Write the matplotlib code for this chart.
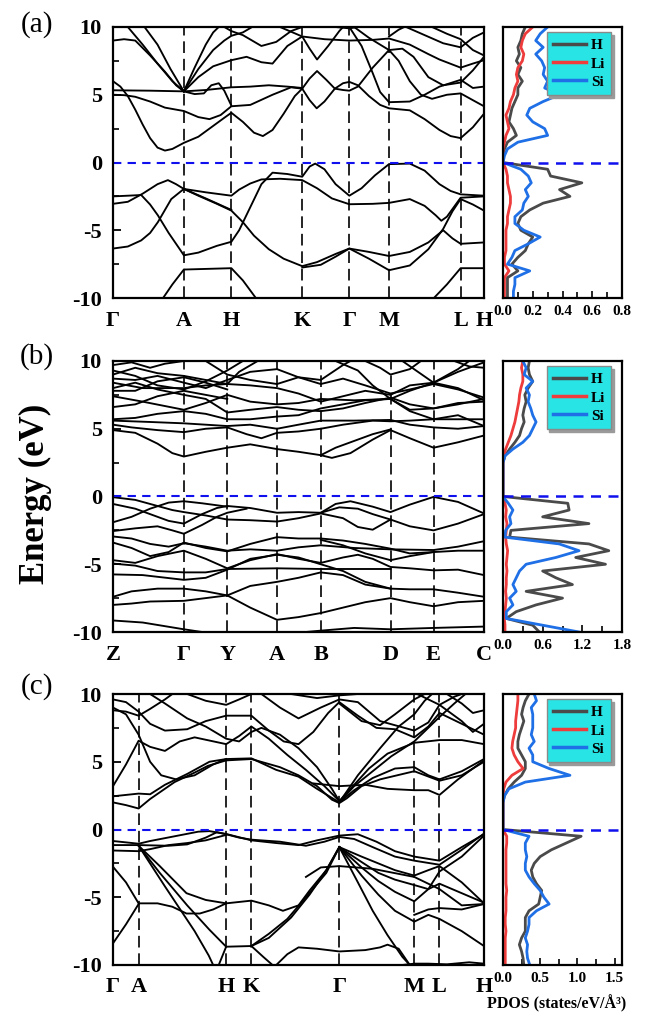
import matplotlib
matplotlib.use('Agg')
import matplotlib.pyplot as plt
from matplotlib.ticker import MultipleLocator

plt.rcParams['font.family'] = ['Liberation Serif', 'DejaVu Serif']
plt.rcParams['font.weight'] = 'bold'
plt.rcParams['axes.unicode_minus'] = False
plt.rcParams['axes.linewidth'] = 1.6

# ---------------- k-path (fraction of path length) ----------------
kpts_a = [0, 0.191, 0.319, 0.510, 0.637, 0.744, 0.937, 1.0]
klab_a = ['Γ', 'A', 'H', 'K', 'Γ', 'M', 'L', 'H']
kpts_b = [0, 0.191, 0.308, 0.442, 0.560, 0.748, 0.864, 1.0]
klab_b = ['Z', 'Γ', 'Y', 'A', 'B', 'D', 'E', 'C']
kpts_c = [0, 0.069, 0.305, 0.373, 0.610, 0.812, 0.880, 1.0]
klab_c = ['Γ', 'A', 'H', 'K', 'Γ', 'M', 'L', 'H']

# ---------------- band lines, [k, E(eV)] ----------------
bands_a = [
    [[0, -2.5], [0.04, -2.45], [0.076, -2.4], [0.10, -3.1], [0.121, -3.9], [0.15, -5.2], [0.18, -6.4], [0.191, -6.85], [0.23, -6.65], [0.28, -6.15], [0.319, -5.85], [0.34, -5.0], [0.37, -3.3], [0.40, -1.6], [0.43, -0.75], [0.47, -0.85], [0.51, -1.05], [0.53, -0.3], [0.545, -0.08], [0.57, -0.5], [0.60, -1.6], [0.637, -2.45], [0.67, -1.9], [0.706, -0.95], [0.744, -0.12], [0.80, -0.08], [0.84, -0.6], [0.88, -1.6], [0.91, -2.1], [0.937, -2.35], [1.0, -2.45]],
    [[0, -3.05], [0.04, -2.9], [0.08, -2.3], [0.12, -1.6], [0.148, -1.3], [0.17, -1.6], [0.191, -1.95], [0.25, -2.2], [0.319, -2.45], [0.34, -2.0], [0.37, -1.55], [0.40, -1.25], [0.45, -1.2], [0.51, -1.3], [0.55, -1.9], [0.59, -2.65], [0.637, -3.08], [0.70, -3.05], [0.744, -2.98], [0.80, -2.7], [0.84, -3.2], [0.87, -3.9], [0.885, -4.3], [0.90, -4.0], [0.937, -2.6], [1.0, -2.5]],
    [[0, -6.35], [0.04, -6.2], [0.076, -5.75], [0.10, -5.2], [0.121, -4.4], [0.157, -2.7], [0.191, -1.95], [0.23, -2.45], [0.28, -3.05], [0.319, -3.55], [0.35, -4.4], [0.38, -5.4], [0.42, -6.4], [0.46, -7.1], [0.51, -7.65], [0.55, -7.35], [0.60, -6.75], [0.637, -6.35], [0.69, -6.6], [0.744, -6.9], [0.80, -6.6], [0.85, -5.9], [0.89, -5.0], [0.915, -5.6], [0.937, -6.0], [1.0, -5.9]],
    [[0.191, -1.95], [0.25, -2.65], [0.319, -3.5]],
    [[0.51, -7.75], [0.56, -7.55], [0.60, -6.95], [0.637, -6.35], [0.69, -7.1], [0.744, -7.95], [0.80, -7.6], [0.85, -6.4], [0.89, -4.9], [0.915, -3.6], [0.937, -2.7], [0.97, -3.1], [1.0, -3.55]],
    [[0.135, -10], [0.16, -9.0], [0.191, -7.9], [0.319, -7.8], [0.35, -8.7], [0.385, -10]],
    [[0.865, -10], [0.90, -9.0], [0.937, -7.8], [1.0, -7.8]],
    [[0, 6.0], [0.02, 5.6], [0.04, 4.9], [0.06, 3.9], [0.08, 2.8], [0.10, 1.8], [0.12, 1.1], [0.14, 0.88], [0.16, 1.0], [0.191, 1.45], [0.23, 1.9], [0.27, 2.7], [0.30, 3.3], [0.319, 3.67], [0.35, 3.0], [0.38, 2.2], [0.404, 1.95], [0.43, 2.4], [0.46, 3.6], [0.49, 4.9], [0.51, 5.45], [0.53, 4.6], [0.549, 4.0], [0.57, 4.5], [0.598, 5.45], [0.62, 5.85], [0.637, 5.95], [0.66, 5.7], [0.69, 4.9], [0.72, 4.25], [0.744, 4.0], [0.80, 3.85], [0.84, 3.2], [0.88, 2.4], [0.91, 1.95], [0.937, 1.8], [0.97, 2.6], [1.0, 3.6]],
    [[0, 5.0], [0.03, 4.97], [0.06, 4.85], [0.10, 4.5], [0.14, 4.05], [0.191, 3.8], [0.23, 3.35], [0.26, 3.2], [0.29, 3.5], [0.319, 4.15], [0.37, 4.25], [0.43, 5.0], [0.48, 5.55], [0.51, 5.45], [0.53, 6.2], [0.55, 6.75], [0.575, 6.1], [0.598, 5.45], [0.62, 5.35], [0.637, 5.3], [0.66, 5.6], [0.70, 7.0], [0.744, 8.3], [0.77, 7.5], [0.80, 6.0], [0.83, 5.0], [0.86, 4.7], [0.90, 5.0], [0.937, 5.1], [0.97, 4.6], [1.0, 4.15]],
    [[0, 5.33], [0.10, 5.3], [0.191, 5.25], [0.22, 5.05], [0.245, 5.1], [0.265, 5.7], [0.285, 5.85], [0.30, 5.3], [0.319, 4.2]],
    [[0.191, 5.25], [0.25, 5.35], [0.319, 5.55], [0.37, 5.6], [0.42, 5.7], [0.47, 5.6], [0.51, 5.5]],
    [[0, 9.0], [0.03, 9.1], [0.06, 9.0], [0.10, 7.9], [0.14, 6.7], [0.17, 5.7], [0.191, 5.25]],
    [[0.04, 10], [0.08, 8.7], [0.12, 7.3], [0.16, 6.0], [0.191, 5.25]],
    [[0.085, 10], [0.12, 8.7], [0.155, 6.9], [0.191, 5.25]],
    [[0.191, 5.25], [0.22, 7.0], [0.25, 8.7], [0.27, 9.6], [0.285, 10]],
    [[0.191, 5.25], [0.23, 6.9], [0.27, 8.3], [0.30, 9.0], [0.319, 9.35], [0.35, 9.6], [0.375, 10]],
    [[0.191, 5.25], [0.23, 6.3], [0.27, 7.1], [0.319, 7.55], [0.36, 7.8], [0.40, 7.4], [0.43, 7.3], [0.47, 8.6], [0.51, 9.3], [0.53, 8.4], [0.55, 7.6], [0.58, 8.6], [0.61, 9.7], [0.62, 10]],
    [[0.30, 10], [0.319, 9.7], [0.35, 9.4], [0.40, 8.6], [0.44, 8.9], [0.48, 9.7], [0.51, 10]],
    [[0.45, 10], [0.51, 9.3], [0.57, 9.1], [0.637, 9.0], [0.70, 9.05], [0.744, 9.15], [0.80, 8.7], [0.85, 8.0], [0.88, 7.6], [0.937, 7.0], [0.97, 7.3], [1.0, 7.55]],
    [[0.637, 10], [0.67, 8.6], [0.70, 6.6], [0.72, 5.2], [0.744, 4.45], [0.80, 4.5], [0.84, 5.0], [0.88, 5.6], [0.937, 6.1], [0.97, 5.5], [1.0, 5.6]],
    [[0.65, 10], [0.69, 9.2], [0.744, 8.3], [0.78, 8.4], [0.81, 7.8], [0.85, 6.3], [0.89, 5.7], [0.937, 5.9], [0.97, 6.8], [1.0, 7.8]],
    [[0.744, 9.3], [0.77, 9.8], [0.785, 10]],
    [[0.79, 10], [0.84, 9.4], [0.89, 8.8], [0.937, 8.5], [0.97, 9.2], [1.0, 9.6]],
    [[0.86, 10], [0.90, 9.5], [0.937, 9.1], [0.97, 8.3], [1.0, 7.9]],
    [[0.60, 10], [0.637, 9.9], [0.66, 10]],
]

bands_b = [
    [[0, -0.05], [0.06, -0.25], [0.12, -0.7], [0.16, -1.0], [0.191, -1.15], [0.25, -1.4], [0.308, -1.7], [0.37, -1.75], [0.442, -1.85], [0.50, -1.6], [0.56, -1.25], [0.62, -1.6], [0.66, -2.25], [0.70, -2.45], [0.748, -1.7], [0.80, -2.2], [0.864, -2.5], [0.93, -2.0], [1.0, -1.3]],
    [[0, -0.55], [0.06, -0.9], [0.10, -1.3], [0.15, -1.8], [0.191, -2.0], [0.24, -1.3], [0.28, -0.85], [0.308, -0.7], [0.37, -0.85], [0.442, -1.2], [0.50, -1.15], [0.56, -1.2], [0.60, -0.55], [0.64, -0.35], [0.70, -0.75], [0.748, -1.15], [0.80, -0.6], [0.864, -0.03], [0.93, -0.4], [1.0, -1.25]],
    [[0, -1.9], [0.05, -1.5], [0.10, -0.9], [0.15, -0.45], [0.191, -0.35], [0.24, -0.5], [0.308, -0.75]],
    [[0, -2.55], [0.06, -2.35], [0.12, -2.2], [0.16, -2.5], [0.191, -2.75], [0.24, -2.1], [0.28, -1.5], [0.308, -1.2], [0.36, -0.9]],
    [[0.56, -1.2], [0.61, -0.8], [0.66, -0.9], [0.70, -1.3], [0.748, -1.7]],
    [[0, -2.95], [0.05, -3.1], [0.10, -3.5], [0.15, -3.7], [0.191, -3.45], [0.25, -3.7], [0.308, -4.0], [0.37, -3.9], [0.442, -4.0], [0.50, -3.75], [0.56, -3.6], [0.65, -3.8], [0.748, -3.9], [0.864, -3.95], [0.93, -3.7], [1.0, -3.3]],
    [[0, -3.4], [0.05, -3.8], [0.10, -4.4], [0.15, -4.1], [0.191, -3.4], [0.25, -3.8], [0.308, -4.05], [0.37, -3.5], [0.442, -3.0], [0.50, -3.1], [0.56, -3.1], [0.62, -3.25], [0.68, -3.5], [0.748, -3.85], [0.80, -4.2], [0.864, -4.1], [0.93, -4.0], [1.0, -4.0]],
    [[0, -4.7], [0.06, -4.9], [0.12, -4.4], [0.191, -4.0], [0.25, -4.6], [0.308, -5.3], [0.37, -4.7], [0.442, -4.25], [0.50, -4.6], [0.56, -4.9], [0.62, -4.5], [0.66, -4.3], [0.70, -4.6], [0.748, -5.2], [0.80, -5.3], [0.864, -5.45], [0.93, -5.4], [1.0, -5.8]],
    [[0, -4.95], [0.06, -5.1], [0.12, -5.5], [0.191, -5.6], [0.25, -5.6], [0.308, -5.35], [0.442, -5.3], [0.56, -5.35], [0.65, -5.35], [0.748, -5.35]],
    [[0, -5.75], [0.08, -5.8], [0.191, -6.15], [0.25, -6.0], [0.308, -5.4], [0.37, -4.6], [0.442, -4.3], [0.50, -4.5], [0.56, -5.0], [0.62, -5.5], [0.68, -6.3], [0.748, -6.8], [0.80, -6.85], [0.864, -6.85], [0.93, -7.1], [1.0, -7.4]],
    [[0, -7.4], [0.05, -7.0], [0.12, -6.8], [0.191, -6.8], [0.25, -7.0], [0.308, -7.3], [0.37, -8.2], [0.442, -9.1], [0.50, -8.9], [0.56, -8.6], [0.62, -8.2], [0.68, -7.8], [0.748, -7.5], [0.80, -7.8], [0.864, -8.1], [0.93, -7.8], [1.0, -7.7]],
    [[0, -8.0], [0.05, -7.9], [0.10, -7.75], [0.191, -7.7], [0.308, -7.3], [0.37, -6.6], [0.442, -6.3], [0.50, -6.0], [0.56, -5.6], [0.62, -5.8], [0.68, -6.5], [0.748, -6.8]],
    [[0, -9.15], [0.08, -9.3], [0.191, -9.8], [0.24, -10]],
    [[0.52, -10], [0.56, -9.9], [0.65, -9.7], [0.748, -9.8], [0.864, -9.7], [1.0, -9.6]],
    [[0.56, -3.2], [0.62, -3.6], [0.68, -4.2], [0.748, -4.7], [0.80, -4.4], [0.864, -4.1]],
    [[0, 4.9], [0.06, 4.7], [0.12, 3.9], [0.16, 3.2], [0.191, 2.95], [0.25, 3.3], [0.308, 3.6], [0.37, 3.85], [0.442, 3.5], [0.50, 3.3], [0.56, 3.05], [0.59, 2.85], [0.64, 3.2], [0.70, 4.2], [0.748, 4.9], [0.80, 4.3], [0.864, 3.6], [0.93, 4.0], [1.0, 4.5]],
    [[0.56, 3.05], [0.60, 3.6], [0.65, 4.1], [0.70, 4.6], [0.748, 4.95]],
    [[0, 5.3], [0.05, 5.1], [0.12, 4.9], [0.191, 4.75], [0.25, 5.0], [0.308, 5.1], [0.36, 4.6], [0.40, 4.3], [0.442, 4.7], [0.50, 4.8], [0.56, 5.0], [0.62, 5.3], [0.70, 5.6], [0.748, 5.55], [0.80, 5.6], [0.864, 5.7], [1.0, 5.7]],
    [[0, 5.6], [0.10, 5.5], [0.191, 5.4], [0.25, 5.3], [0.308, 5.2], [0.37, 5.3], [0.442, 5.0], [0.50, 5.3], [0.56, 5.6], [0.65, 5.6], [0.748, 5.65], [0.80, 5.3], [0.864, 5.1], [0.93, 5.0], [1.0, 5.2]],
    [[0, 5.7], [0.06, 5.8], [0.12, 6.1], [0.191, 6.3], [0.25, 6.1], [0.308, 5.7], [0.37, 5.7], [0.442, 5.9], [0.50, 6.0], [0.56, 6.5], [0.62, 6.8], [0.68, 7.1], [0.748, 7.2], [0.80, 6.4], [0.864, 6.5], [0.93, 6.9], [1.0, 7.0]],
    [[0, 7.4], [0.08, 7.0], [0.191, 6.4], [0.25, 6.9], [0.308, 7.5], [0.37, 7.0], [0.442, 6.8], [0.50, 6.9], [0.56, 7.2], [0.65, 7.1], [0.748, 7.2], [0.80, 7.8], [0.864, 8.4], [0.93, 8.0], [1.0, 7.1]],
    [[0, 8.0], [0.06, 8.4], [0.12, 7.9], [0.191, 7.5], [0.25, 7.2], [0.308, 6.2], [0.37, 6.4], [0.442, 6.6], [0.50, 6.4], [0.56, 6.3], [0.62, 6.5], [0.68, 6.9], [0.748, 7.3], [0.80, 6.8], [0.864, 6.5], [0.93, 6.8], [1.0, 7.2]],
    [[0, 8.4], [0.08, 8.0], [0.191, 8.0], [0.25, 8.2], [0.308, 8.3], [0.37, 8.2], [0.442, 8.0], [0.50, 7.6], [0.56, 7.0], [0.62, 7.4], [0.68, 7.8], [0.748, 7.5], [0.80, 8.2], [0.864, 8.4], [0.93, 9.2], [1.0, 9.9]],
    [[0, 8.7], [0.06, 8.6], [0.12, 8.9], [0.191, 8.4], [0.25, 8.0], [0.308, 8.6], [0.37, 9.2], [0.442, 9.4], [0.50, 8.8], [0.56, 8.3], [0.62, 8.7], [0.68, 8.2], [0.748, 7.6], [0.80, 7.9], [0.864, 8.3], [0.93, 7.9], [1.0, 7.3]],
    [[0, 9.0], [0.06, 9.5], [0.12, 9.1], [0.191, 8.9], [0.25, 8.6], [0.308, 8.3], [0.34, 9.2], [0.39, 10]],
    [[0, 9.7], [0.05, 9.9], [0.10, 9.5], [0.14, 9.8], [0.191, 10]],
    [[0.25, 10], [0.308, 9.0], [0.37, 8.6], [0.442, 8.3], [0.50, 8.8], [0.56, 8.6], [0.62, 9.7], [0.64, 10]],
    [[0.60, 10], [0.66, 9.3], [0.70, 8.2], [0.748, 7.2], [0.80, 6.3], [0.864, 5.7], [0.93, 6.0], [1.0, 5.2]],
    [[0.68, 10], [0.72, 9.5], [0.748, 9.0], [0.80, 9.4], [0.83, 10]],
    [[0.78, 10], [0.864, 8.4], [0.93, 9.4], [0.96, 10]],
    [[0.92, 10], [0.96, 9.6], [1.0, 9.5]],
    [[0, 7.8], [0.06, 7.8], [0.12, 8.5], [0.191, 8.8], [0.25, 8.4], [0.308, 7.9]],
    [[0, 6.6], [0.06, 6.8], [0.12, 7.4], [0.191, 7.8], [0.25, 7.5], [0.308, 7.2]],
    [[0, 9.3], [0.06, 8.9], [0.12, 8.2], [0.191, 7.9], [0.25, 8.5], [0.308, 9.3], [0.35, 10]],
]

bands_c = [
    [[0, -0.85], [0.035, -0.95], [0.069, -1.05], [0.10, -0.85], [0.166, -0.5], [0.23, -0.16], [0.26, -0.12], [0.305, -0.33], [0.373, -0.8], [0.44, -1.0], [0.50, -1.15], [0.55, -0.8], [0.61, -0.45], [0.66, -0.35], [0.71, -0.9], [0.76, -1.6], [0.812, -2.0], [0.880, -2.3], [0.94, -1.3], [1.0, -0.35]],
    [[0, -1.15], [0.069, -1.15], [0.15, -1.2], [0.20, -1.1], [0.25, -0.6], [0.28, -0.2], [0.305, -0.35], [0.34, -0.6], [0.373, -0.75], [0.45, -0.9], [0.52, -1.2], [0.57, -0.9], [0.61, -0.55], [0.65, -0.7], [0.70, -1.3], [0.76, -2.0], [0.812, -2.3], [0.880, -2.6], [0.94, -1.5], [1.0, -0.3]],
    [[0, -1.55], [0.069, -1.6], [0.10, -1.45], [0.15, -1.15], [0.20, -1.0], [0.25, -0.8], [0.305, -0.4]],
    [[0.069, -1.2], [0.126, -2.7], [0.198, -4.7], [0.25, -5.2], [0.305, -5.45], [0.373, -5.25], [0.42, -5.6], [0.458, -6.0], [0.50, -5.6], [0.53, -4.5], [0.575, -3.0], [0.61, -1.3]],
    [[0.069, -1.2], [0.126, -3.2], [0.20, -5.6], [0.26, -7.4], [0.305, -8.65], [0.373, -8.6], [0.42, -8.0], [0.48, -6.5], [0.53, -4.8], [0.575, -3.0], [0.61, -1.3]],
    [[0.069, -1.2], [0.14, -4.2], [0.22, -7.5], [0.258, -9.3], [0.27, -10]],
    [[0.285, -10], [0.305, -8.65]],
    [[0.373, -8.6], [0.42, -7.7], [0.47, -6.6], [0.52, -5.0], [0.575, -3.2], [0.61, -1.3]],
    [[0.373, -8.6], [0.405, -9.4], [0.43, -10]],
    [[0, -2.75], [0.035, -3.9], [0.069, -5.45], [0.12, -5.45], [0.16, -5.7], [0.198, -6.2], [0.234, -6.2], [0.27, -5.9], [0.305, -5.45]],
    [[0, -8.4], [0.035, -7.0], [0.069, -5.5]],
    [[0.44, -10], [0.47, -9.2], [0.50, -8.7], [0.55, -8.8], [0.61, -9.0], [0.68, -8.9], [0.72, -8.7], [0.74, -8.5], [0.77, -8.8], [0.80, -10]],
    [[0.61, -1.3], [0.67, -2.4], [0.715, -3.2], [0.76, -3.7], [0.812, -4.1], [0.85, -4.4], [0.88, -4.0], [0.94, -4.7], [1.0, -5.4]],
    [[0.61, -1.3], [0.67, -2.8], [0.715, -3.8], [0.76, -4.6], [0.812, -5.3], [0.85, -4.4], [0.88, -3.1], [0.94, -2.0], [1.0, -0.45]],
    [[0.61, -1.3], [0.67, -3.4], [0.715, -4.8], [0.76, -6.0], [0.812, -6.8], [0.85, -6.3], [0.88, -6.6], [0.94, -7.5], [1.0, -8.6]],
    [[0.61, -1.3], [0.66, -3.9], [0.70, -6.0], [0.74, -7.8], [0.78, -9.4], [0.80, -10]],
    [[0.61, -1.3], [0.67, -2.0], [0.715, -2.5], [0.76, -3.0], [0.812, -3.4], [0.85, -3.0], [0.88, -2.7], [0.94, -3.9], [1.0, -5.45]],
    [[0.52, -3.5], [0.56, -2.8], [0.61, -2.7], [0.70, -2.9], [0.812, -3.5], [0.88, -4.4], [0.94, -5.6], [1.0, -5.5]],
    [[0.812, -6.3], [0.85, -5.9], [0.88, -5.8], [0.94, -5.9], [1.0, -5.5]],
    [[0.78, -10], [0.812, -9.9], [0.85, -9.9], [0.90, -9.95], [0.96, -9.8], [1.0, -9.9]],
    [[0, 2.0], [0.035, 1.8], [0.069, 1.55], [0.10, 2.25], [0.166, 3.5], [0.22, 4.2], [0.256, 4.7], [0.305, 5.1], [0.373, 5.2], [0.45, 4.6], [0.50, 4.0], [0.55, 3.2], [0.59, 2.2], [0.61, 1.95], [0.63, 2.3], [0.67, 3.2], [0.72, 3.7], [0.812, 4.3], [0.88, 3.6], [0.94, 4.0], [1.0, 5.0]],
    [[0, 2.45], [0.069, 2.65], [0.10, 2.6], [0.14, 3.3], [0.20, 4.1], [0.26, 5.0], [0.305, 5.2], [0.373, 5.25], [0.44, 4.4], [0.50, 3.9], [0.55, 3.0], [0.61, 2.0], [0.65, 2.9], [0.70, 3.8], [0.76, 4.5], [0.812, 4.6], [0.85, 4.0], [0.88, 3.7], [0.94, 4.3], [1.0, 5.2]],
    [[0, 3.2], [0.035, 4.8], [0.069, 6.55], [0.10, 6.1], [0.14, 5.8], [0.18, 6.5], [0.22, 6.8], [0.305, 6.3], [0.34, 6.9], [0.373, 7.6], [0.42, 6.7], [0.47, 5.5], [0.52, 4.4], [0.57, 3.2], [0.61, 2.1], [0.65, 3.3], [0.69, 4.5], [0.74, 5.6], [0.812, 6.4], [0.88, 6.6], [0.94, 6.6], [1.0, 6.3]],
    [[0, 9.0], [0.035, 8.5], [0.069, 7.0], [0.10, 5.0], [0.13, 4.0], [0.17, 3.7], [0.22, 4.0], [0.27, 4.8], [0.305, 5.2]],
    [[0.54, 3.4], [0.61, 3.2], [0.68, 3.3], [0.74, 3.0], [0.812, 2.9], [0.85, 2.9], [0.88, 2.55], [0.93, 3.7], [1.0, 5.1]],
    [[0.61, 2.0], [0.65, 3.2], [0.70, 4.3], [0.75, 5.4], [0.812, 6.5], [0.88, 8.3], [0.92, 9.3], [0.95, 10]],
    [[0.61, 2.0], [0.66, 4.0], [0.72, 6.0], [0.77, 7.6], [0.812, 8.5], [0.84, 9.5], [0.86, 10]],
    [[0, 9.6], [0.035, 9.4], [0.069, 8.7], [0.10, 7.8], [0.14, 7.3], [0.20, 7.4], [0.25, 8.0], [0.305, 8.4], [0.373, 8.4], [0.42, 7.3], [0.46, 6.5], [0.50, 6.3], [0.54, 7.2], [0.58, 8.6], [0.61, 9.4], [0.66, 8.4], [0.71, 7.5], [0.76, 7.4], [0.812, 6.8], [0.85, 7.6], [0.88, 8.6], [0.94, 7.8], [1.0, 7.0]],
    [[0.10, 10], [0.14, 9.3], [0.20, 8.2], [0.25, 7.6], [0.305, 6.7], [0.34, 6.5], [0.373, 7.2], [0.40, 7.5], [0.45, 7.0], [0.50, 6.0], [0.55, 4.6], [0.59, 3.0], [0.61, 2.1]],
    [[0.40, 10], [0.45, 9.0], [0.50, 8.2], [0.56, 9.0], [0.61, 9.6], [0.66, 9.4], [0.72, 8.0], [0.812, 7.3], [0.85, 7.9], [0.88, 9.2], [0.92, 9.8], [0.94, 10]],
    [[0.61, 9.3], [0.67, 8.0], [0.72, 7.7], [0.76, 8.5], [0.812, 9.6], [0.84, 10]],
    [[0.82, 10], [0.88, 9.2], [0.94, 8.0], [0.97, 7.2], [1.0, 7.8]],
    [[0.90, 10], [0.94, 9.3], [0.97, 8.6], [1.0, 8.8]],
    [[0, 8.8], [0.035, 8.7], [0.069, 8.4], [0.10, 8.9], [0.14, 9.6], [0.16, 10]],
    [[0.20, 10], [0.25, 9.5], [0.305, 9.2], [0.34, 9.6], [0.373, 10]],
    [[0.48, 10], [0.55, 9.7], [0.61, 9.9], [0.66, 10]],
]

# ---------------- PDOS (states/eV/A^3) on a shared energy grid ----------------
e_dos = [10, 9.5, 9, 8.5, 8, 7.5, 7, 6.5, 6, 5.5, 5, 4.5, 4, 3.5, 3, 2.5, 2, 1.5, 1, 0.5,
         0, -0.5, -1, -1.5, -2, -2.5, -3, -3.5, -4, -4.5, -5, -5.5, -6, -6.5, -7, -7.5,
         -8, -8.5, -9, -9.5, -10]

h_a = [0.15, 0.13, 0.12, 0.10, 0.11, 0.09, 0.12, 0.10, 0.13, 0.10, 0.10, 0.08, 0.06, 0.05, 0.04, 0.07, 0.09, 0.03, 0.01, 0.0,
       0.0, 0.30, 0.32, 0.53, 0.38, 0.45, 0.27, 0.18, 0.12, 0.10, 0.12, 0.20, 0.17, 0.15, 0.10, 0.06, 0.10, 0.03, 0.03, 0.03, 0.03]
li_a = [0.20, 0.15, 0.13, 0.12, 0.14, 0.13, 0.10, 0.09, 0.10, 0.08, 0.07, 0.05, 0.04, 0.02, 0.03, 0.04, 0.02, 0.01, 0.0, 0.0,
        0.0, 0.02, 0.03, 0.03, 0.04, 0.05, 0.05, 0.04, 0.03, 0.03, 0.02, 0.02, 0.02, 0.02, 0.01, 0.01, 0.04, 0.01, 0.01, 0.01, 0.01]
si_a = [0.30, 0.25, 0.22, 0.27, 0.22, 0.26, 0.28, 0.27, 0.30, 0.28, 0.38, 0.27, 0.18, 0.16, 0.20, 0.28, 0.30, 0.10, 0.03, 0.01,
        0.0, 0.12, 0.17, 0.19, 0.15, 0.17, 0.14, 0.13, 0.08, 0.08, 0.14, 0.25, 0.17, 0.08, 0.06, 0.03, 0.18, 0.08, 0.08, 0.07, 0.07]

h_b = [0.40, 0.38, 0.40, 0.45, 0.38, 0.33, 0.35, 0.32, 0.30, 0.32, 0.28, 0.25, 0.18, 0.10, 0.03, 0.0, 0.0, 0.0, 0.0, 0.0,
       0.0, 0.98, 1.00, 0.60, 1.30, 0.12, 0.10, 1.30, 1.60, 1.10, 1.55, 0.60, 0.80, 1.05, 0.35, 0.90, 0.50, 0.20, 0.05, 0.45, 0.55]
li_b = [0.30, 0.28, 0.30, 0.30, 0.27, 0.25, 0.24, 0.22, 0.20, 0.18, 0.15, 0.12, 0.08, 0.04, 0.01, 0.0, 0.0, 0.0, 0.0, 0.0,
        0.0, 0.03, 0.05, 0.04, 0.06, 0.05, 0.04, 0.05, 0.07, 0.06, 0.05, 0.06, 0.05, 0.05, 0.04, 0.05, 0.04, 0.03, 0.02, 0.03, 0.03]
si_b = [0.30, 0.35, 0.32, 0.45, 0.35, 0.40, 0.38, 0.42, 0.45, 0.50, 0.45, 0.40, 0.30, 0.15, 0.03, 0.0, 0.0, 0.0, 0.0, 0.0,
        0.0, 0.08, 0.15, 0.10, 0.12, 0.04, 0.03, 0.85, 1.15, 0.80, 0.35, 0.25, 0.20, 0.15, 0.20, 0.10, 0.15, 0.05, 0.05, 0.60, 1.15]

h_c = [0.35, 0.30, 0.27, 0.25, 0.28, 0.25, 0.22, 0.20, 0.20, 0.25, 0.30, 0.30, 0.25, 0.15, 0.07, 0.02, 0.0, 0.0, 0.0, 0.0,
       0.0, 1.05, 0.85, 0.65, 0.50, 0.42, 0.38, 0.40, 0.45, 0.52, 0.50, 0.48, 0.35, 0.30, 0.30, 0.30, 0.25, 0.22, 0.25, 0.27, 0.28]
li_c = [0.20, 0.20, 0.19, 0.18, 0.17, 0.17, 0.15, 0.13, 0.12, 0.15, 0.20, 0.27, 0.12, 0.04, 0.01, 0.0, 0.0, 0.0, 0.0, 0.0,
        0.0, 0.05, 0.05, 0.04, 0.04, 0.04, 0.04, 0.04, 0.04, 0.05, 0.04, 0.04, 0.04, 0.03, 0.03, 0.04, 0.03, 0.03, 0.03, 0.03, 0.03]
si_c = [0.42, 0.45, 0.38, 0.40, 0.40, 0.40, 0.38, 0.42, 0.35, 0.40, 0.40, 0.62, 0.90, 0.30, 0.08, 0.02, 0.0, 0.0, 0.0, 0.0,
        0.0, 0.35, 0.30, 0.30, 0.32, 0.30, 0.30, 0.35, 0.42, 0.50, 0.55, 0.62, 0.45, 0.35, 0.35, 0.33, 0.30, 0.33, 0.32, 0.33, 0.36]

xmax_a, xticks_a, xtl_a = 0.8, [0, 0.2, 0.4, 0.6, 0.8], ['0.0', '0.2', '0.4', '0.6', '0.8']
xmax_b, xticks_b, xtl_b = 1.8, [0, 0.6, 1.2, 1.8], ['0.0', '0.6', '1.2', '1.8']
xmax_c, xticks_c, xtl_c = 1.6, [0, 0.5, 1.0, 1.5], ['0.0', '0.5', '1.0', '1.5']

col_h, col_li, col_si = '#4a4a4a', '#ee3b3b', '#1f6fe6'

W, H = 654.0, 1019.0


def box(x0, y0, x1, y1):
    return [x0 / W, 1 - y1 / H, (x1 - x0) / W, (y1 - y0) / H]


def draw_bands(ax, bands, kpts, klab):
    for b in bands:
        ks = [p[0] for p in b]
        es = [p[1] for p in b]
        ax.plot(ks, es, color='k', lw=1.35, solid_joinstyle='round')
    for k in kpts[1:-1]:
        ax.axvline(k, color='k', lw=1.2, dashes=(7, 3.5))
    ax.axhline(0, color='#1010ee', lw=1.5, dashes=(4, 3))
    ax.set_xlim(0, 1)
    ax.set_ylim(-10, 10)
    ax.set_xticks(kpts)
    ax.set_xticklabels(klab)
    ax.tick_params(axis='x', length=0, pad=9, labelsize=16)
    ax.yaxis.set_minor_locator(MultipleLocator(2.5))
    ax.set_yticks([-10, -5, 0, 5, 10])
    ax.set_yticklabels(['-10', '-5', '0', '5', '10'])
    ax.tick_params(axis='y', which='major', direction='in', length=6, width=1.3, pad=8, labelsize=16)
    ax.tick_params(axis='y', which='minor', direction='in', length=4, width=1.2)


def draw_pdos(ax, h, li, si, xmax, xticks, xtl):
    ax.plot(h, e_dos, color=col_h, lw=2.0, label='H')
    ax.plot(li, e_dos, color=col_li, lw=2.0, label='Li')
    ax.plot(si, e_dos, color=col_si, lw=2.0, label='Si')
    ax.axhline(0, color='#1010ee', lw=1.8, dashes=(4, 3))
    ax.set_xlim(0, xmax)
    ax.set_ylim(-10, 10)
    ax.set_xticks(xticks)
    ax.set_xticklabels(xtl)
    ax.xaxis.set_minor_locator(MultipleLocator(xticks[1] / 2))
    ax.tick_params(axis='x', which='both', direction='in', width=1.2, labelsize=11, pad=5)
    ax.tick_params(axis='x', which='major', length=5)
    ax.tick_params(axis='x', which='minor', length=4)
    ax.tick_params(axis='y', left=False, labelleft=False)
    leg = ax.legend(loc='upper right', bbox_to_anchor=(0.91, 0.98), frameon=True,
                    facecolor='#28e4e4', edgecolor='#8a8a8a', framealpha=1, fancybox=False,
                    shadow={'ox': 2, 'oy': -2, 'color': '#9a9a9a', 'alpha': 1},
                    prop={'weight': 'bold', 'size': 11}, handlelength=2.2,
                    borderpad=0.4, labelspacing=0.3, handletextpad=0.3, borderaxespad=0)
    for ln in leg.get_lines():
        ln.set_linewidth(2.5)


fig = plt.figure(figsize=(6.54, 10.19), dpi=100)

rows = [
    (27, 298, bands_a, kpts_a, klab_a, h_a, li_a, si_a, xmax_a, xticks_a, xtl_a, '(a)', 25),
    (361, 632, bands_b, kpts_b, klab_b, h_b, li_b, si_b, xmax_b, xticks_b, xtl_b, '(b)', 357),
    (694, 965, bands_c, kpts_c, klab_c, h_c, li_c, si_c, xmax_c, xticks_c, xtl_c, '(c)', 687),
]

for top, bot, bands, kpts, klab, h, li, si, xmax, xticks, xtl, tag, ty in rows:
    axb = fig.add_axes(box(113, top, 484, bot))
    draw_bands(axb, bands, kpts, klab)
    axd = fig.add_axes(box(503, top, 622, bot))
    draw_pdos(axd, h, li, si, xmax, xticks, xtl)
    fig.text(37 / W, 1 - ty / H, tag, fontsize=21, fontweight='normal', ha='center', va='center')

fig.text(35 / W, 1 - 494 / H, 'Energy (eV)', rotation=90, fontsize=25, fontweight='bold',
         ha='center', va='center')
fig.text(557 / W, 1 - 1004 / H, 'PDOS (states/eV/Å³)', fontsize=11.5, fontweight='bold',
         ha='center', va='center')

fig.savefig('out.png', dpi=100)
